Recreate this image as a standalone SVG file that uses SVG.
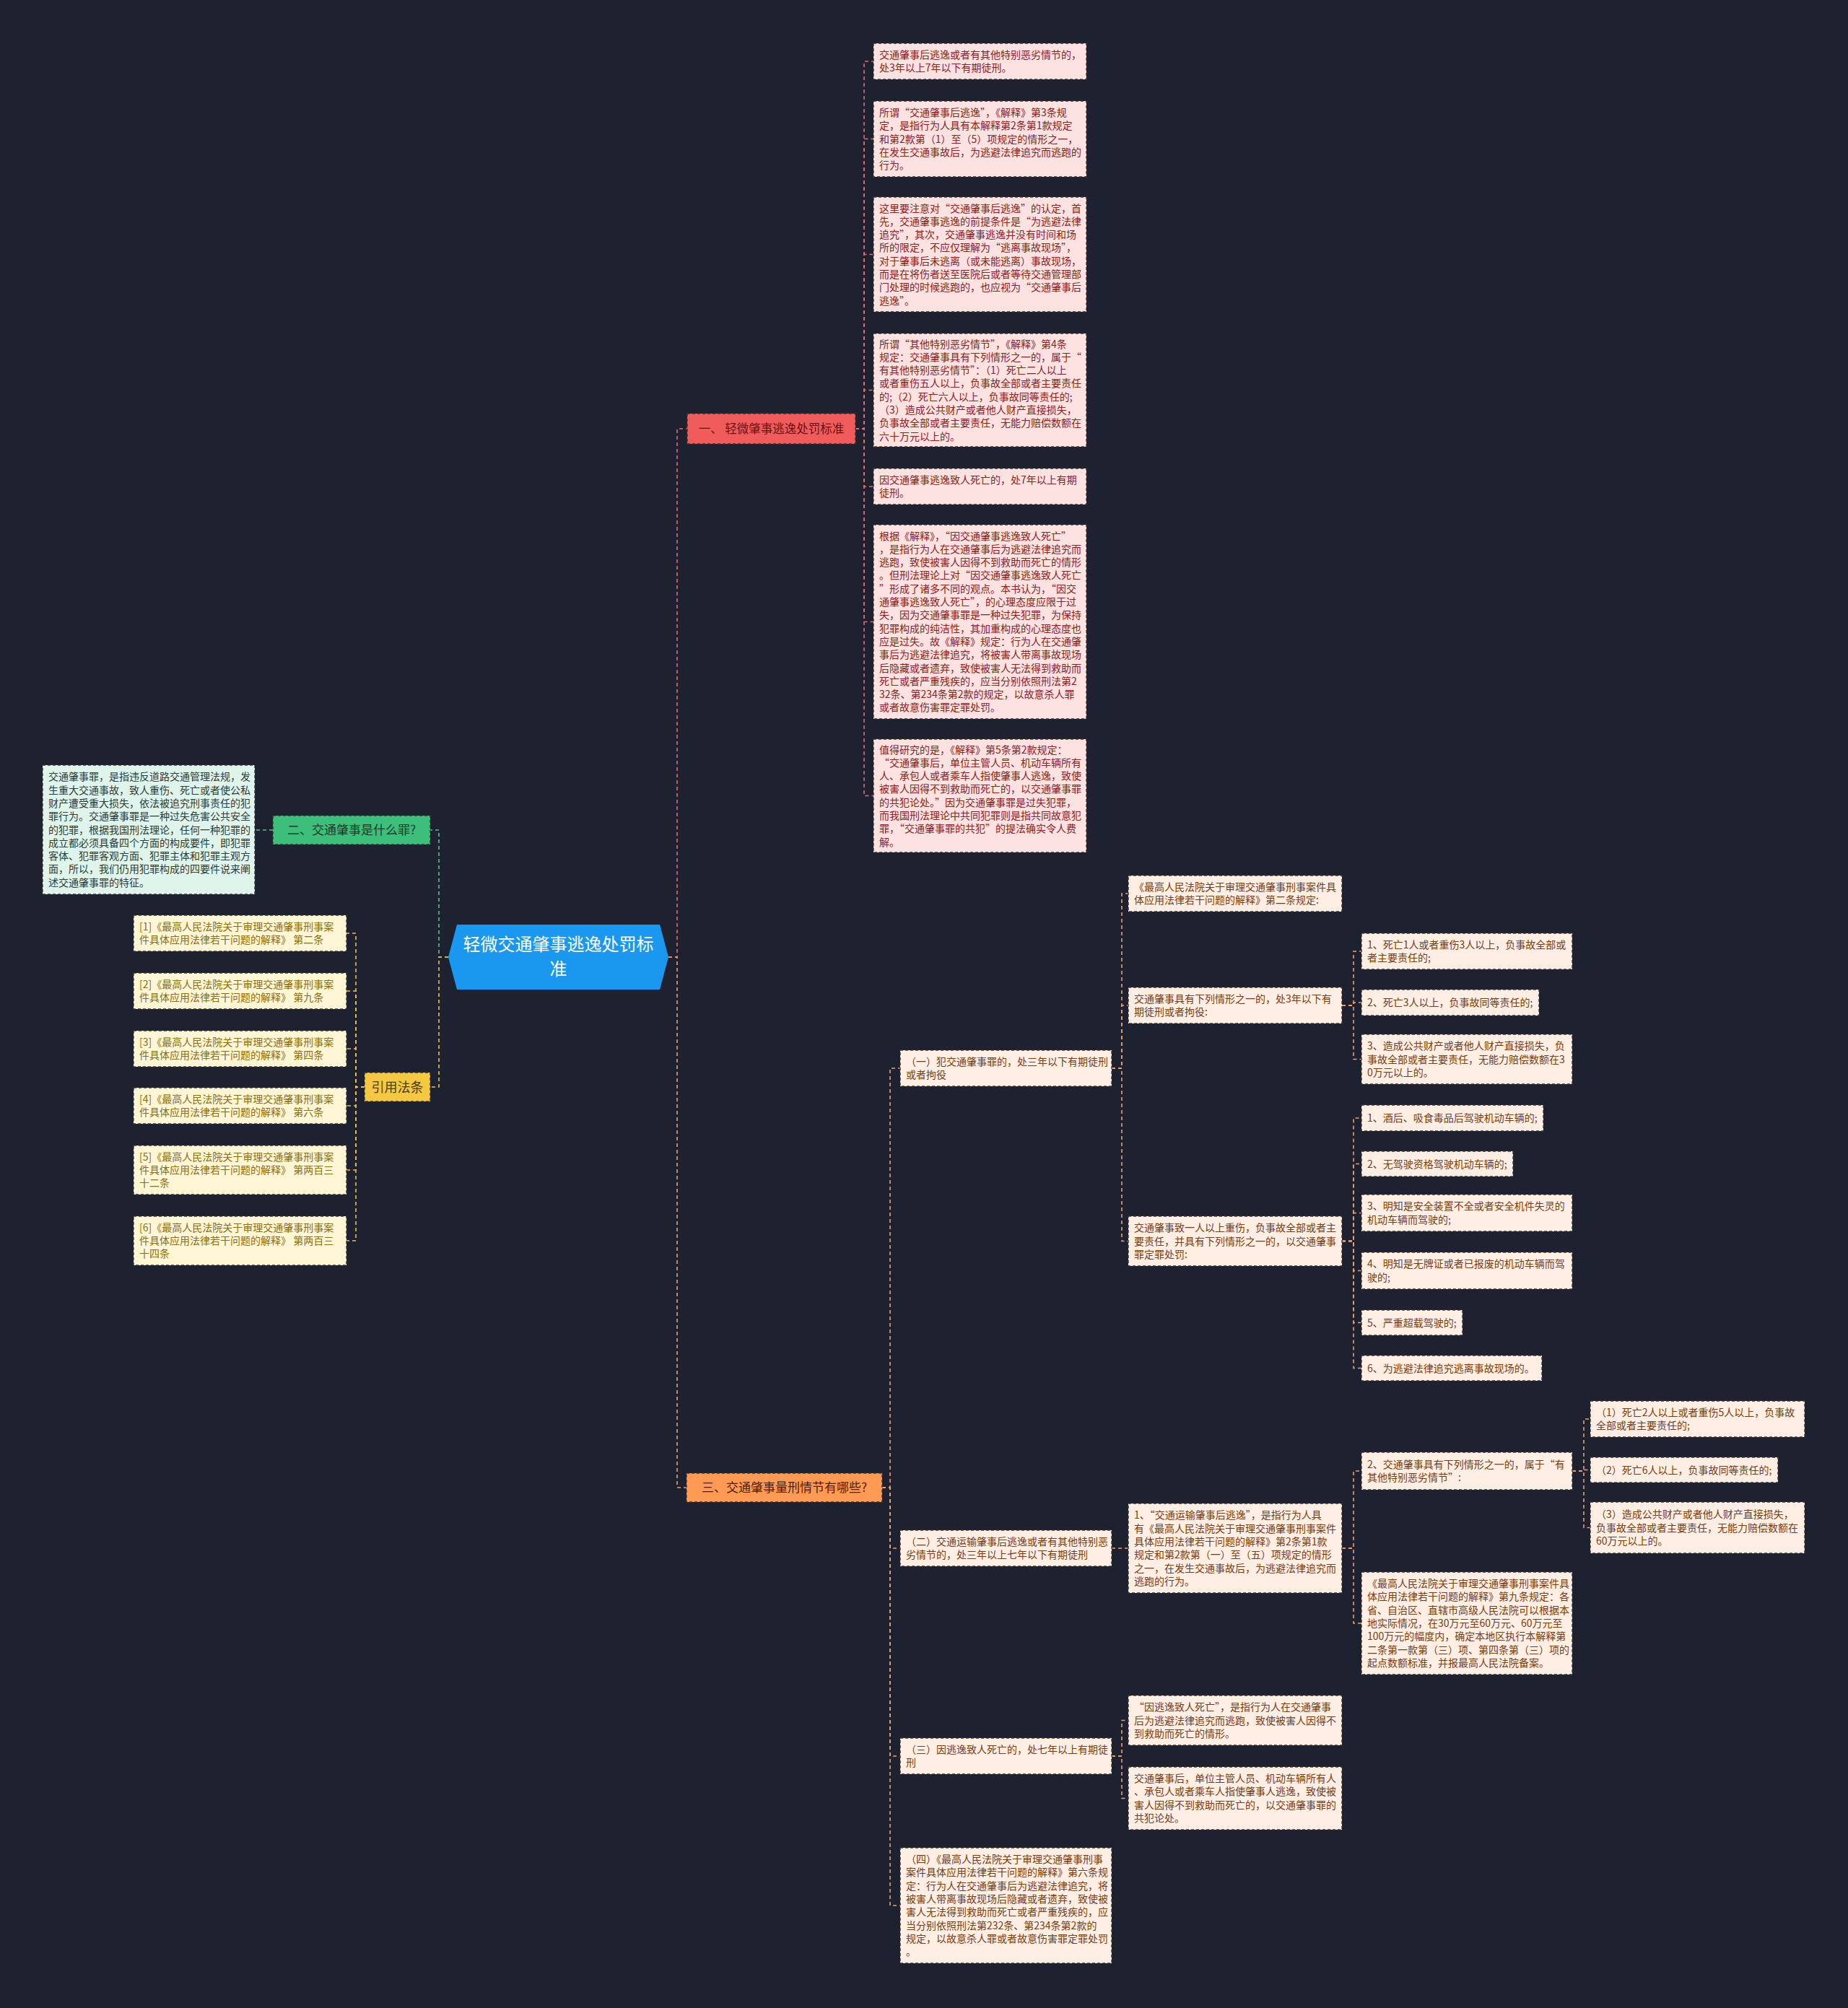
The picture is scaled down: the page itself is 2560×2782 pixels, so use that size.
<svg xmlns="http://www.w3.org/2000/svg" width="2560" height="2782" viewBox="0 0 2560 2782">
<style>
text{font-family:"Noto Sans CJK SC","Noto Sans",sans-serif;}
.t{font-size:14px;}
.nd{stroke:#3a3030;stroke-width:1.4;stroke-dasharray:4 3;}
.pk{fill:#FDE2E2;}
.tp{fill:#8E2020;}
.or{fill:#FFEEE3;}
.to{fill:#7A3B10;}
.yl{fill:#FFF6D6;}
.ty{fill:#8C6D12;}
.gr{fill:#DFF4EA;}
.tg{fill:#2F3B35;}
.c{fill:none;stroke-width:1.6;stroke-dasharray:5 4;}
.cp{stroke:#E26C70;}
.co{stroke:#E6A274;}
.cg{stroke:#5EC08A;}
.cy{stroke:#E8C24A;}
</style>
<rect x="0" y="0" width="2560" height="2782" fill="#1E2130"/>

<g id="connectors">
<path class="c cp" d="M926,1326 H938 V594 H952"/>
<path class="c co" d="M926,1326 H938 V2061 H951"/>
<path class="c cg" d="M621,1326 H608 V1150 H596"/>
<path class="c cy" d="M621,1326 H608 V1506 H596"/>
<path class="c cg" d="M378,1150 H353"/>
<path class="c cy" d="M505,1506 H493 V1293 H480"/>
<path class="c cy" d="M505,1506 H493 V1373 H480"/>
<path class="c cy" d="M505,1506 H493 V1453 H480"/>
<path class="c cy" d="M505,1506 H493 V1532 H480"/>
<path class="c cy" d="M505,1506 H493 V1621 H480"/>
<path class="c cy" d="M505,1506 H493 V1719 H480"/>
<path class="c cp" d="M1185,594 H1197 V85 H1210"/>
<path class="c cp" d="M1185,594 H1197 V192.5 H1210"/>
<path class="c cp" d="M1185,594 H1197 V352.5 H1210"/>
<path class="c cp" d="M1185,594 H1197 V540.5 H1210"/>
<path class="c cp" d="M1185,594 H1197 V674 H1210"/>
<path class="c cp" d="M1185,594 H1197 V861.5 H1210"/>
<path class="c cp" d="M1185,594 H1197 V1102.5 H1210"/>
<path class="c co" d="M1222,2061 H1233 V1480 H1247"/>
<path class="c co" d="M1222,2061 H1233 V2145 H1247"/>
<path class="c co" d="M1222,2061 H1233 V2433 H1247"/>
<path class="c co" d="M1222,2061 H1233 V2640 H1247"/>
<path class="c co" d="M1540,1480 H1554 V1238 H1563"/>
<path class="c co" d="M1540,1480 H1554 V1393 H1563"/>
<path class="c co" d="M1540,1480 H1554 V1719.5 H1563"/>
<path class="c co" d="M1859,1393 H1875 V1318 H1886"/>
<path class="c co" d="M1859,1393 H1875 V1389 H1886"/>
<path class="c co" d="M1859,1393 H1875 V1467.5 H1886"/>
<path class="c co" d="M1859,1719.5 H1875 V1549 H1886"/>
<path class="c co" d="M1859,1719.5 H1875 V1612.5 H1886"/>
<path class="c co" d="M1859,1719.5 H1875 V1680.5 H1886"/>
<path class="c co" d="M1859,1719.5 H1875 V1760.5 H1886"/>
<path class="c co" d="M1859,1719.5 H1875 V1832.5 H1886"/>
<path class="c co" d="M1859,1719.5 H1875 V1895.5 H1886"/>
<path class="c co" d="M1540,2145 H1563"/>
<path class="c co" d="M1859,2145 H1875 V2038 H1886"/>
<path class="c co" d="M1859,2145 H1875 V2249 H1886"/>
<path class="c co" d="M2178,2038 H2194 V1966 H2203"/>
<path class="c co" d="M2178,2038 H2194 V2036.5 H2203"/>
<path class="c co" d="M2178,2038 H2194 V2116.5 H2203"/>
<path class="c co" d="M1540,2433 H1554 V2383.5 H1563"/>
<path class="c co" d="M1540,2433 H1554 V2491.5 H1563"/>
</g>

<g id="root">
<polygon points="633,1281 914,1281 926,1326 914,1371 633,1371 621,1326" fill="#1A98F0"/>
<text x="773.5" y="1317" font-size="24" fill="#FFFFFF" text-anchor="middle">轻微交通肇事逃逸处罚标</text>
<text x="773.5" y="1351" font-size="24" fill="#FFFFFF" text-anchor="middle">准</text>
</g>

<g id="b1">
<rect x="952" y="573" width="233" height="42" fill="#F05C5C" class="nd"/>
<text x="1068.5" y="600" font-size="16.5" fill="#6E1010" text-anchor="middle">一、 轻微肇事逃逸处罚标准</text>
</g>
<g id="b2">
<rect x="378" y="1130" width="218" height="40" fill="#3DBE7A" class="nd"/>
<text x="487" y="1156" font-size="17" fill="#173A28" text-anchor="middle">二、交通肇事是什么罪?</text>
</g>
<g id="b3">
<rect x="951" y="2041" width="271" height="40" fill="#FF9A55" class="nd"/>
<text x="1086.5" y="2067" font-size="17" fill="#4A2000" text-anchor="middle">三、交通肇事量刑情节有哪些?</text>
</g>
<g id="b4">
<rect x="505" y="1486" width="91" height="40" fill="#F5C842" class="nd"/>
<text x="550.5" y="1512.5" font-size="18" fill="#4A3A00" text-anchor="middle">引用法条</text>
</g>

<g id="p1"><rect class="pk nd" x="1210" y="60" width="295" height="50"/>
<text class="t tp" x="1218" y="81"><tspan x="1218">交通肇事后逃逸或者有其他特别恶劣情节的，</tspan><tspan x="1218" dy="18.3">处3年以上7年以下有期徒刑。</tspan></text></g>
<g id="p2"><rect class="pk nd" x="1210" y="140" width="295" height="105"/>
<text class="t tp" x="1218" y="161"><tspan x="1218">所谓“交通肇事后逃逸”，《解释》第3条规</tspan><tspan x="1218" dy="18.3">定，是指行为人具有本解释第2条第1款规定</tspan><tspan x="1218" dy="18.3">和第2款第（1）至（5）项规定的情形之一，</tspan><tspan x="1218" dy="18.3">在发生交通事故后，为逃避法律追究而逃跑的</tspan><tspan x="1218" dy="18.3">行为。</tspan></text></g>
<g id="p3"><rect class="pk nd" x="1210" y="273" width="295" height="159"/>
<text class="t tp" x="1218" y="293.5"><tspan x="1218">这里要注意对“交通肇事后逃逸”的认定，首</tspan><tspan x="1218" dy="18.3">先，交通肇事逃逸的前提条件是“为逃避法律</tspan><tspan x="1218" dy="18.3">追究”，其次，交通肇事逃逸并没有时间和场</tspan><tspan x="1218" dy="18.3">所的限定，不应仅理解为“逃离事故现场”，</tspan><tspan x="1218" dy="18.3">对于肇事后未逃离（或未能逃离）事故现场，</tspan><tspan x="1218" dy="18.3">而是在将伤者送至医院后或者等待交通管理部</tspan><tspan x="1218" dy="18.3">门处理的时候逃跑的，也应视为“交通肇事后</tspan><tspan x="1218" dy="18.3">逃逸”。</tspan></text></g>
<g id="p4"><rect class="pk nd" x="1210" y="462" width="295" height="157"/>
<text class="t tp" x="1218" y="481.5"><tspan x="1218">所谓“其他特别恶劣情节”，《解释》第4条</tspan><tspan x="1218" dy="18.3">规定：交通肇事具有下列情形之一的，属于“</tspan><tspan x="1218" dy="18.3">有其他特别恶劣情节”：（1）死亡二人以上</tspan><tspan x="1218" dy="18.3">或者重伤五人以上，负事故全部或者主要责任</tspan><tspan x="1218" dy="18.3">的;（2）死亡六人以上，负事故同等责任的;</tspan><tspan x="1218" dy="18.3">（3）造成公共财产或者他人财产直接损失，</tspan><tspan x="1218" dy="18.3">负事故全部或者主要责任，无能力赔偿数额在</tspan><tspan x="1218" dy="18.3">六十万元以上的。</tspan></text></g>
<g id="p5"><rect class="pk nd" x="1210" y="649" width="295" height="50"/>
<text class="t tp" x="1218" y="670"><tspan x="1218">因交通肇事逃逸致人死亡的，处7年以上有期</tspan><tspan x="1218" dy="18.3">徒刑。</tspan></text></g>
<g id="p6"><rect class="pk nd" x="1210" y="727" width="295" height="269"/>
<text class="t tp" x="1218" y="747.5"><tspan x="1218">根据《解释》，“因交通肇事逃逸致人死亡”</tspan><tspan x="1218" dy="18.3">，是指行为人在交通肇事后为逃避法律追究而</tspan><tspan x="1218" dy="18.3">逃跑，致使被害人因得不到救助而死亡的情形</tspan><tspan x="1218" dy="18.3">。但刑法理论上对“因交通肇事逃逸致人死亡</tspan><tspan x="1218" dy="18.3">”形成了诸多不同的观点。本书认为，“因交</tspan><tspan x="1218" dy="18.3">通肇事逃逸致人死亡”，的心理态度应限于过</tspan><tspan x="1218" dy="18.3">失，因为交通肇事罪是一种过失犯罪，为保持</tspan><tspan x="1218" dy="18.3">犯罪构成的纯洁性，其加重构成的心理态度也</tspan><tspan x="1218" dy="18.3">应是过失。故《解释》规定：行为人在交通肇</tspan><tspan x="1218" dy="18.3">事后为逃避法律追究，将被害人带离事故现场</tspan><tspan x="1218" dy="18.3">后隐藏或者遗弃，致使被害人无法得到救助而</tspan><tspan x="1218" dy="18.3">死亡或者严重残疾的，应当分别依照刑法第2</tspan><tspan x="1218" dy="18.3">32条、第234条第2款的规定，以故意杀人罪</tspan><tspan x="1218" dy="18.3">或者故意伤害罪定罪处罚。</tspan></text></g>
<g id="p7"><rect class="pk nd" x="1210" y="1024" width="295" height="157"/>
<text class="t tp" x="1218" y="1043.5"><tspan x="1218">值得研究的是，《解释》第5条第2款规定：</tspan><tspan x="1218" dy="18.3">“交通肇事后，单位主管人员、机动车辆所有</tspan><tspan x="1218" dy="18.3">人、承包人或者乘车人指使肇事人逃逸，致使</tspan><tspan x="1218" dy="18.3">被害人因得不到救助而死亡的，以交通肇事罪</tspan><tspan x="1218" dy="18.3">的共犯论处。”因为交通肇事罪是过失犯罪，</tspan><tspan x="1218" dy="18.3">而我国刑法理论中共同犯罪则是指共同故意犯</tspan><tspan x="1218" dy="18.3">罪，“交通肇事罪的共犯”的提法确实令人费</tspan><tspan x="1218" dy="18.3">解。</tspan></text></g>

<g id="g1"><rect class="gr nd" x="59" y="1060" width="294" height="179"/>
<text class="t tg" x="67" y="1081.3"><tspan x="67">交通肇事罪，是指违反道路交通管理法规，发</tspan><tspan x="67" dy="18.3">生重大交通事故，致人重伤、死亡或者使公私</tspan><tspan x="67" dy="18.3">财产遭受重大损失，依法被追究刑事责任的犯</tspan><tspan x="67" dy="18.3">罪行为。交通肇事罪是一种过失危害公共安全</tspan><tspan x="67" dy="18.3">的犯罪，根据我国刑法理论，任何一种犯罪的</tspan><tspan x="67" dy="18.3">成立都必须具备四个方面的构成要件，即犯罪</tspan><tspan x="67" dy="18.3">客体、犯罪客观方面、犯罪主体和犯罪主观方</tspan><tspan x="67" dy="18.3">面，所以，我们仍用犯罪构成的四要件说来阐</tspan><tspan x="67" dy="18.3">述交通肇事罪的特征。</tspan></text></g>

<g id="r1"><rect class="yl nd" x="185" y="1268" width="295" height="50"/>
<text class="t ty" x="193" y="1289"><tspan x="193">[1]《最高人民法院关于审理交通肇事刑事案</tspan><tspan x="193" dy="18.3">件具体应用法律若干问题的解释》 第二条</tspan></text></g>
<g id="r2"><rect class="yl nd" x="185" y="1348" width="295" height="50"/>
<text class="t ty" x="193" y="1369"><tspan x="193">[2]《最高人民法院关于审理交通肇事刑事案</tspan><tspan x="193" dy="18.3">件具体应用法律若干问题的解释》 第九条</tspan></text></g>
<g id="r3"><rect class="yl nd" x="185" y="1428" width="295" height="50"/>
<text class="t ty" x="193" y="1449"><tspan x="193">[3]《最高人民法院关于审理交通肇事刑事案</tspan><tspan x="193" dy="18.3">件具体应用法律若干问题的解释》 第四条</tspan></text></g>
<g id="r4"><rect class="yl nd" x="185" y="1507" width="295" height="50"/>
<text class="t ty" x="193" y="1528"><tspan x="193">[4]《最高人民法院关于审理交通肇事刑事案</tspan><tspan x="193" dy="18.3">件具体应用法律若干问题的解释》 第六条</tspan></text></g>
<g id="r5"><rect class="yl nd" x="185" y="1587" width="295" height="68"/>
<text class="t ty" x="193" y="1607.7"><tspan x="193">[5]《最高人民法院关于审理交通肇事刑事案</tspan><tspan x="193" dy="18.3">件具体应用法律若干问题的解释》 第两百三</tspan><tspan x="193" dy="18.3">十二条</tspan></text></g>
<g id="r6"><rect class="yl nd" x="185" y="1685" width="295" height="68"/>
<text class="t ty" x="193" y="1705.7"><tspan x="193">[6]《最高人民法院关于审理交通肇事刑事案</tspan><tspan x="193" dy="18.3">件具体应用法律若干问题的解释》 第两百三</tspan><tspan x="193" dy="18.3">十四条</tspan></text></g>

<g id="o1"><rect class="or nd" x="1247" y="1455" width="293" height="50"/>
<text class="t to" x="1255" y="1476"><tspan x="1255">（一）犯交通肇事罪的，处三年以下有期徒刑</tspan><tspan x="1255" dy="18.3">或者拘役</tspan></text></g>
<g id="o2"><rect class="or nd" x="1247" y="2120" width="293" height="50"/>
<text class="t to" x="1255" y="2141"><tspan x="1255">（二）交通运输肇事后逃逸或者有其他特别恶</tspan><tspan x="1255" dy="18.3">劣情节的，处三年以上七年以下有期徒刑</tspan></text></g>
<g id="o3"><rect class="or nd" x="1247" y="2408" width="293" height="50"/>
<text class="t to" x="1255" y="2429"><tspan x="1255">（三）因逃逸致人死亡的，处七年以上有期徒</tspan><tspan x="1255" dy="18.3">刑</tspan></text></g>
<g id="o4"><rect class="or nd" x="1247" y="2560" width="293" height="160"/>
<text class="t to" x="1255" y="2581"><tspan x="1255">（四）《最高人民法院关于审理交通肇事刑事</tspan><tspan x="1255" dy="18.3">案件具体应用法律若干问题的解释》第六条规</tspan><tspan x="1255" dy="18.3">定：行为人在交通肇事后为逃避法律追究，将</tspan><tspan x="1255" dy="18.3">被害人带离事故现场后隐藏或者遗弃，致使被</tspan><tspan x="1255" dy="18.3">害人无法得到救助而死亡或者严重残疾的，应</tspan><tspan x="1255" dy="18.3">当分别依照刑法第232条、第234条第2款的</tspan><tspan x="1255" dy="18.3">规定，以故意杀人罪或者故意伤害罪定罪处罚</tspan><tspan x="1255" dy="18.3">。</tspan></text></g>

<g id="a1"><rect class="or nd" x="1563" y="1213" width="296" height="50"/>
<text class="t to" x="1571" y="1234"><tspan x="1571">《最高人民法院关于审理交通肇事刑事案件具</tspan><tspan x="1571" dy="18.3">体应用法律若干问题的解释》第二条规定:</tspan></text></g>
<g id="a2"><rect class="or nd" x="1563" y="1368" width="296" height="50"/>
<text class="t to" x="1571" y="1389"><tspan x="1571">交通肇事具有下列情形之一的，处3年以下有</tspan><tspan x="1571" dy="18.3">期徒刑或者拘役:</tspan></text></g>
<g id="a3"><rect class="or nd" x="1563" y="1685" width="296" height="69"/>
<text class="t to" x="1571" y="1706.2"><tspan x="1571">交通肇事致一人以上重伤，负事故全部或者主</tspan><tspan x="1571" dy="18.3">要责任，并具有下列情形之一的，以交通肇事</tspan><tspan x="1571" dy="18.3">罪定罪处罚:</tspan></text></g>

<g id="bb1"><rect class="or nd" x="1886" y="1293" width="292" height="50"/>
<text class="t to" x="1894" y="1314"><tspan x="1894">1、死亡1人或者重伤3人以上，负事故全部或</tspan><tspan x="1894" dy="18.3">者主要责任的;</tspan></text></g>
<g id="bb2"><rect class="or nd" x="1886" y="1371" width="246" height="36"/>
<text class="t to" x="1894" y="1394">2、死亡3人以上，负事故同等责任的;</text></g>
<g id="bb3"><rect class="or nd" x="1886" y="1433" width="292" height="69"/>
<text class="t to" x="1894" y="1454.2"><tspan x="1894">3、造成公共财产或者他人财产直接损失，负</tspan><tspan x="1894" dy="18.3">事故全部或者主要责任，无能力赔偿数额在3</tspan><tspan x="1894" dy="18.3">0万元以上的。</tspan></text></g>

<g id="c1"><rect class="or nd" x="1886" y="1531" width="252" height="36"/>
<text class="t to" x="1894" y="1554">1、酒后、吸食毒品后驾驶机动车辆的;</text></g>
<g id="c2"><rect class="or nd" x="1886" y="1595" width="210" height="35"/>
<text class="t to" x="1894" y="1617.5">2、无驾驶资格驾驶机动车辆的;</text></g>
<g id="c3"><rect class="or nd" x="1886" y="1655" width="292" height="51"/>
<text class="t to" x="1894" y="1676.4"><tspan x="1894">3、明知是安全装置不全或者安全机件失灵的</tspan><tspan x="1894" dy="18.3">机动车辆而驾驶的;</tspan></text></g>
<g id="c4"><rect class="or nd" x="1886" y="1735" width="292" height="51"/>
<text class="t to" x="1894" y="1756.4"><tspan x="1894">4、明知是无牌证或者已报废的机动车辆而驾</tspan><tspan x="1894" dy="18.3">驶的;</tspan></text></g>
<g id="c5"><rect class="or nd" x="1886" y="1815" width="140" height="35"/>
<text class="t to" x="1894" y="1837.5">5、严重超载驾驶的;</text></g>
<g id="c6"><rect class="or nd" x="1886" y="1878" width="250" height="35"/>
<text class="t to" x="1894" y="1900.5">6、为逃避法律追究逃离事故现场的。</text></g>

<g id="d1"><rect class="or nd" x="1563" y="2083" width="296" height="124"/>
<text class="t to" x="1571" y="2104.3"><tspan x="1571">1、“交通运输肇事后逃逸”，是指行为人具</tspan><tspan x="1571" dy="18.3">有《最高人民法院关于审理交通肇事刑事案件</tspan><tspan x="1571" dy="18.3">具体应用法律若干问题的解释》第2条第1款</tspan><tspan x="1571" dy="18.3">规定和第2款第（一）至（五）项规定的情形</tspan><tspan x="1571" dy="18.3">之一，在发生交通事故后，为逃避法律追究而</tspan><tspan x="1571" dy="18.3">逃跑的行为。</tspan></text></g>
<g id="e1"><rect class="or nd" x="1886" y="2012" width="292" height="52"/>
<text class="t to" x="1894" y="2034"><tspan x="1894">2、交通肇事具有下列情形之一的，属于“有</tspan><tspan x="1894" dy="18.3">其他特别恶劣情节”:</tspan></text></g>
<g id="e2"><rect class="or nd" x="1886" y="2178" width="292" height="142"/>
<text class="t to" x="1894" y="2199.1"><tspan x="1894">《最高人民法院关于审理交通肇事刑事案件具</tspan><tspan x="1894" dy="18.3">体应用法律若干问题的解释》第九条规定：各</tspan><tspan x="1894" dy="18.3">省、自治区、直辖市高级人民法院可以根据本</tspan><tspan x="1894" dy="18.3">地实际情况，在30万元至60万元、60万元至</tspan><tspan x="1894" dy="18.3">100万元的幅度内，确定本地区执行本解释第</tspan><tspan x="1894" dy="18.3">二条第一款第（三）项、第四条第（三）项的</tspan><tspan x="1894" dy="18.3">起点数额标准，并报最高人民法院备案。</tspan></text></g>
<g id="f1"><rect class="or nd" x="2203" y="1941" width="297" height="50"/>
<text class="t to" x="2211" y="1962"><tspan x="2211">（1）死亡2人以上或者重伤5人以上，负事故</tspan><tspan x="2211" dy="18.3">全部或者主要责任的;</tspan></text></g>
<g id="f2"><rect class="or nd" x="2203" y="2019" width="260" height="35"/>
<text class="t to" x="2211" y="2041.5">（2）死亡6人以上，负事故同等责任的;</text></g>
<g id="f3"><rect class="or nd" x="2203" y="2081" width="297" height="71"/>
<text class="t to" x="2211" y="2103.2"><tspan x="2211">（3）造成公共财产或者他人财产直接损失，</tspan><tspan x="2211" dy="18.3">负事故全部或者主要责任，无能力赔偿数额在</tspan><tspan x="2211" dy="18.3">60万元以上的。</tspan></text></g>

<g id="gg1"><rect class="or nd" x="1563" y="2349" width="296" height="69"/>
<text class="t to" x="1571" y="2370.2"><tspan x="1571">“因逃逸致人死亡”，是指行为人在交通肇事</tspan><tspan x="1571" dy="18.3">后为逃避法律追究而逃跑，致使被害人因得不</tspan><tspan x="1571" dy="18.3">到救助而死亡的情形。</tspan></text></g>
<g id="gg2"><rect class="or nd" x="1563" y="2448" width="296" height="87"/>
<text class="t to" x="1571" y="2469"><tspan x="1571">交通肇事后，单位主管人员、机动车辆所有人</tspan><tspan x="1571" dy="18.3">、承包人或者乘车人指使肇事人逃逸，致使被</tspan><tspan x="1571" dy="18.3">害人因得不到救助而死亡的，以交通肇事罪的</tspan><tspan x="1571" dy="18.3">共犯论处。</tspan></text></g>
</svg>
